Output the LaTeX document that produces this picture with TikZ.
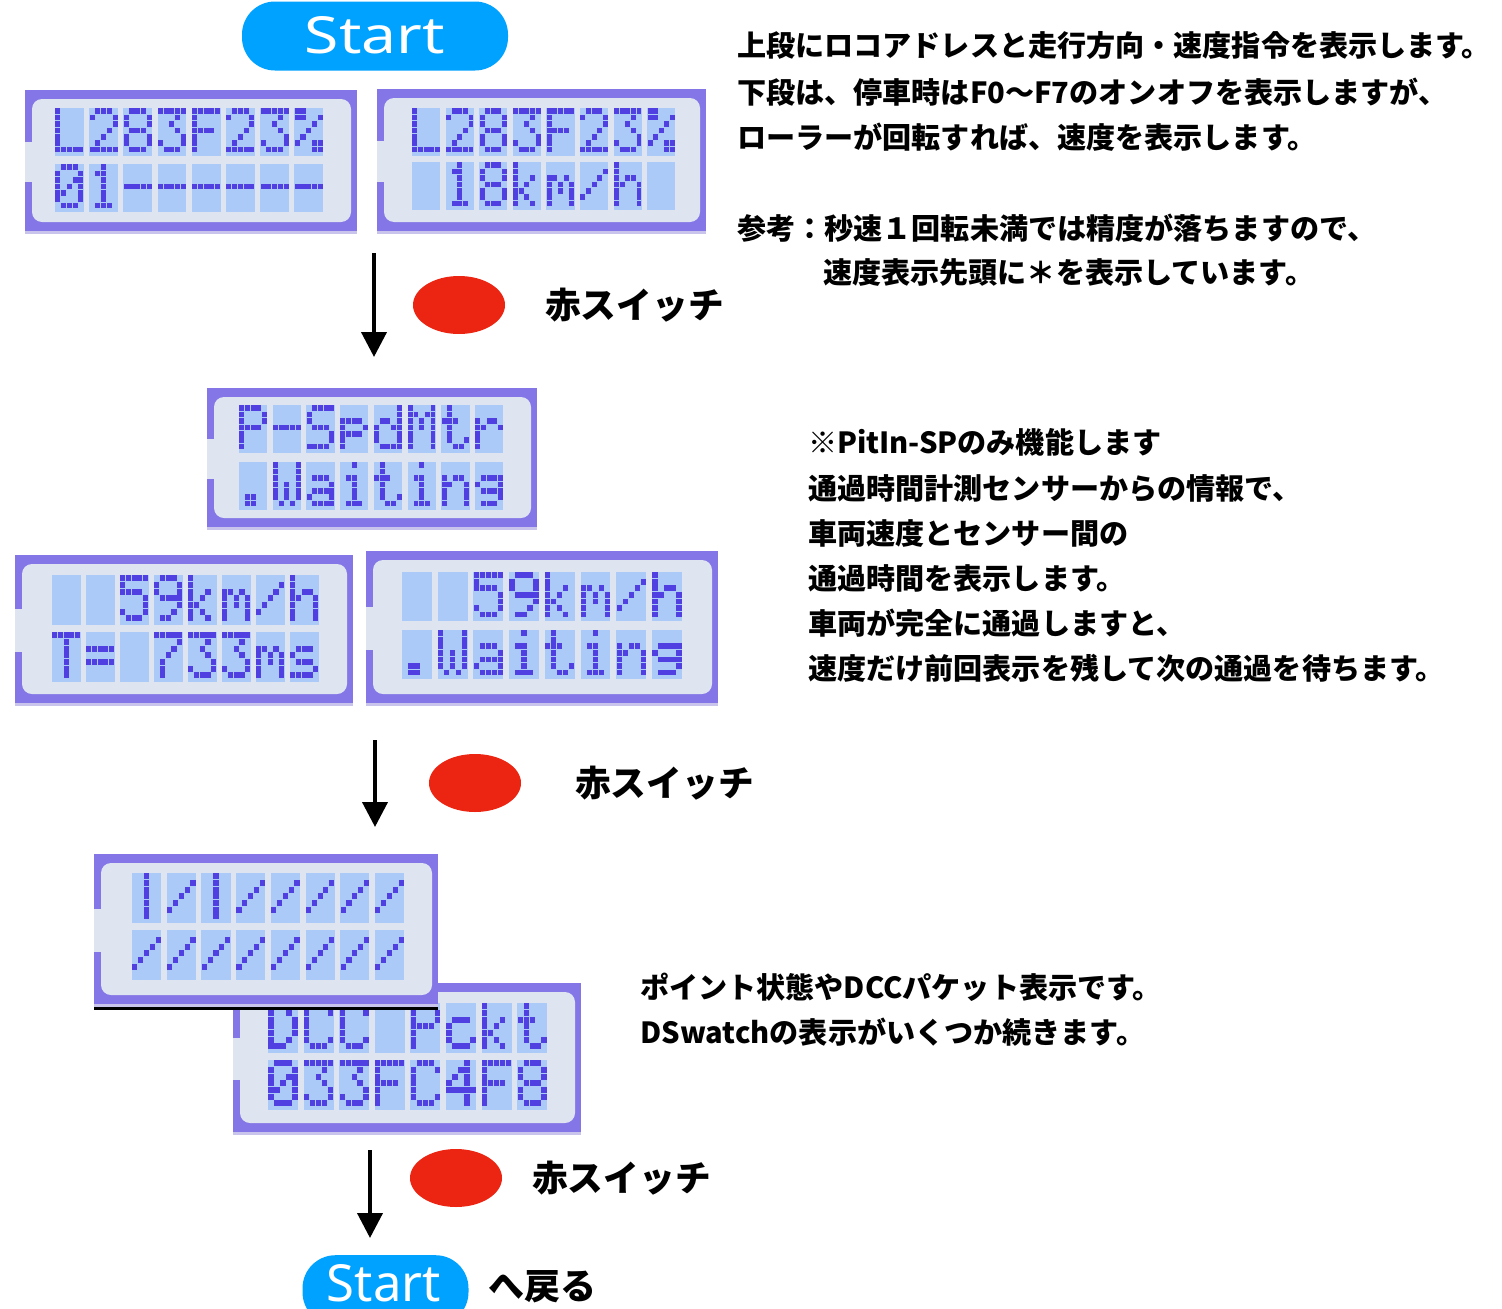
\documentclass[tikz,border=0pt]{standalone}
\usepackage{fontspec}
\usepackage{graphicx}
\usetikzlibrary{arrows.meta,shapes.geometric}
\newfontfamily\jp{Noto Sans CJK JP}
\newfontfamily\startfnt{Noto Sans}
\definecolor{lcdpurple}{RGB}{132,118,230}
\definecolor{lcdwin}{RGB}{222,229,240}
\definecolor{lcdcellc}{RGB}{172,202,248}
\definecolor{lcddotc}{RGB}{80,64,226}
\definecolor{lcdedge}{RGB}{200,196,236}
\definecolor{startblue}{RGB}{0,162,255}
\definecolor{switchred}{RGB}{236,36,18}
% ---------- dot-matrix machinery ----------
\def\lcddot#1#2#3{\ifnum#3=1 \fill[lcddotc] ({\lcdX+#1*\lcdP+0.35},{\lcdY+0.4+#2*\lcdQ}) rectangle ++({\lcdP-0.7},{\lcdQ-0.8});\fi}
\def\lcdbits#1#2#3#4#5#6{\lcddot{0}{#1}{#2}\lcddot{1}{#1}{#3}\lcddot{2}{#1}{#4}\lcddot{3}{#1}{#5}\lcddot{4}{#1}{#6}}
\newcommand\lcdglyph[8]{\expandafter\def\csname lcdg@#1\endcsname{\lcdbits0#2\lcdbits1#3\lcdbits2#4\lcdbits3#5\lcdbits4#6\lcdbits5#7\lcdbits6#8}}
\lcdglyph{L}{10000}{10000}{10000}{10000}{10000}{10000}{11111}
\lcdglyph{2}{01110}{10001}{00001}{00010}{00100}{01000}{11111}
\lcdglyph{8}{01110}{10001}{10001}{01110}{10001}{10001}{01110}
\lcdglyph{3}{11111}{00010}{00100}{00010}{00001}{10001}{01110}
\lcdglyph{F}{11111}{10000}{10000}{11110}{10000}{10000}{10000}
\lcdglyph{pct}{11000}{11001}{00010}{00100}{01000}{10011}{00011}
\lcdglyph{0}{01110}{10001}{10011}{10101}{11001}{10001}{01110}
\lcdglyph{1}{00100}{01100}{00100}{00100}{00100}{00100}{01110}
\lcdglyph{dash}{00000}{00000}{00000}{11111}{00000}{00000}{00000}
\lcdglyph{k}{10000}{10000}{10010}{10100}{11000}{10100}{10010}
\lcdglyph{m}{00000}{00000}{11010}{10101}{10101}{10001}{10001}
\lcdglyph{slash}{00000}{00001}{00010}{00100}{01000}{10000}{00000}
\lcdglyph{h}{10000}{10000}{10110}{11001}{10001}{10001}{10001}
\lcdglyph{P}{11110}{10001}{10001}{11110}{10000}{10000}{10000}
\lcdglyph{S}{01111}{10000}{10000}{01110}{00001}{00001}{11110}
\lcdglyph{p}{00000}{00000}{11110}{10001}{11110}{10000}{10000}
\lcdglyph{d}{00001}{00001}{01101}{10011}{10001}{10001}{01111}
\lcdglyph{M}{10001}{11011}{10101}{10101}{10001}{10001}{10001}
\lcdglyph{t}{01000}{01000}{11100}{01000}{01000}{01001}{00110}
\lcdglyph{r}{00000}{00000}{10110}{11001}{10000}{10000}{10000}
\lcdglyph{dot}{00000}{00000}{00000}{00000}{00000}{01100}{01100}
\lcdglyph{W}{10001}{10001}{10001}{10101}{10101}{10101}{01010}
\lcdglyph{a}{00000}{00000}{01110}{00001}{01111}{10001}{01111}
\lcdglyph{i}{00100}{00000}{01100}{00100}{00100}{00100}{01110}
\lcdglyph{n}{00000}{00000}{10110}{11001}{10001}{10001}{10001}
\lcdglyph{g}{00000}{00000}{01111}{10001}{01111}{00001}{01110}
\lcdglyph{5}{11111}{10000}{11110}{00001}{00001}{10001}{01110}
\lcdglyph{9}{01110}{10001}{10001}{01111}{00001}{00010}{01100}
\lcdglyph{T}{11111}{00100}{00100}{00100}{00100}{00100}{00100}
\lcdglyph{eq}{00000}{00000}{11111}{00000}{11111}{00000}{00000}
\lcdglyph{7}{11111}{00001}{00010}{00100}{01000}{01000}{01000}
\lcdglyph{s}{00000}{00000}{01110}{10000}{01110}{00001}{11110}
\lcdglyph{bar}{00100}{00100}{00100}{00100}{00100}{00100}{00100}
\lcdglyph{D}{11100}{10010}{10001}{10001}{10001}{10010}{11100}
\lcdglyph{C}{01110}{10001}{10000}{10000}{10000}{10001}{01110}
\lcdglyph{c}{00000}{00000}{01110}{10000}{10000}{10001}{01110}
\lcdglyph{4}{00010}{00110}{01010}{10010}{11111}{00010}{00010}
\lcdglyph{sp}{00000}{00000}{00000}{00000}{00000}{00000}{00000}
% frame: x1 y1 x2 y2
\newcommand\lcdframe[4]{%
  \fill[lcdpurple] (#1,#2) rectangle (#3,#4);
  \fill[lcdwin, rounded corners=10pt] (#1+7,#2+9) rectangle (#3-6,#4-12);
  \fill[lcdwin] (#1,{#2+0.36*(#4-#2)}) rectangle (#1+8,{#2+0.64*(#4-#2)});
  \fill[lcdedge] (#1,#4-3) rectangle (#3,#4);}
% row: x0 y pitch height glyphs
\newcommand\lcdrow[5]{%
  \foreach \g [count=\i from 0] in {#5} {
    \pgfmathsetmacro\lcdX{#1+\i*#3}
    \def\lcdY{#2}
    \pgfmathsetmacro\lcdP{0.84*#3/5}
    \pgfmathsetmacro\lcdQ{#4/7.5}
    \fill[lcdcellc] (\lcdX,\lcdY) rectangle ++({0.84*#3},#4);
    \csname lcdg@\g\endcsname
  }}
\tikzset{
  jtxt/.style={anchor=west, inner sep=0pt, font=\jp\bfseries\fontsize{29.1}{31}\selectfont},
  swtxt/.style={anchor=west, inner sep=0pt, font=\jp\bfseries\fontsize{35.7}{38}\selectfont},
  startbox/.style={fill=startblue, text=white, inner sep=0pt, rounded corners=33pt},
  starttxt/.style={text=white, inner sep=0pt},
  redsw/.style={ellipse, fill=switchred, minimum width=92pt, minimum height=58pt, inner sep=0pt},
  flowarrow/.style={line width=4pt, -{Triangle[length=25pt,width=25pt]}},
}
\begin{document}
\begin{tikzpicture}[x=1pt,y=-1pt]
\useasboundingbox (0,0) rectangle (1502,1309);
\fill[white] (0,0) rectangle (1502,1309);
% ---- Start (top)
\node[startbox, minimum width=266pt, minimum height=69pt] (start) at (375,36)
  {\raisebox{2pt}{\resizebox{140pt}{37pt}{\startfnt Start}}};
% ---- LCD 1 & 2
\lcdframe{25}{90}{357}{234}
\lcdrow{55}{108}{34.2}{48}{L,2,8,3,F,2,3,pct}
\lcdrow{55}{164}{34.2}{48}{0,1,dash,dash,dash,dash,dash,dash}
\lcdframe{377}{89}{706}{234}
\lcdrow{412}{108}{33.6}{48}{L,2,8,3,F,2,3,pct}
\lcdrow{412}{162}{33.6}{48}{sp,1,8,k,m,slash,h,sp}
% ---- explanation 1
\node[jtxt] (t11) at (737,45) {上段にロコアドレスと走行方向・速度指令を表示します。};
\node[jtxt] (t12) at (737,92) {下段は、停車時はF0〜F7のオンオフを表示しますが、};
\node[jtxt] (t13) at (737,137) {ローラーが回転すれば、速度を表示します。};
\node[jtxt] (t14) at (737,228) {参考：秒速１回転未満では精度が落ちますので、};
\node[jtxt] (t15) at (823,273) {速度表示先頭に＊を表示しています。};
% ---- switch 1
\coordinate (a1s) at (374,253);
\coordinate (a1e) at (374,357);
\draw[flowarrow] (a1s) -- (a1e);
\node[redsw] (sw1) at (459,305) {};
\node[swtxt] (sw1t) at (545,305) {赤スイッチ};
% ---- LCD 3
\lcdframe{207}{388}{537}{530}
\lcdrow{239}{405}{33.7}{48}{P,dash,S,p,d,M,t,r}
\lcdrow{239}{462}{33.7}{48}{dot,W,a,i,t,i,n,g}
% ---- LCD 4 & 5
\lcdframe{15}{555}{353}{706}
\lcdrow{52}{575}{34}{50}{sp,sp,5,9,k,m,slash,h}
\lcdrow{52}{632}{34}{50}{T,eq,sp,7,3,3,m,s}
\lcdframe{366}{551}{718}{706}
\lcdrow{402}{572}{35.7}{49}{sp,sp,5,9,k,m,slash,h}
\lcdrow{402}{630}{35.7}{49}{dot,W,a,i,t,i,n,g}
% ---- explanation 2
\node[jtxt] (t21) at (808,442) {※PitIn-SPのみ機能します};
\node[jtxt] (t22) at (808,488) {通過時間計測センサーからの情報で、};
\node[jtxt] (t23) at (808,533) {車両速度とセンサー間の};
\node[jtxt] (t24) at (808,578) {通過時間を表示します。};
\node[jtxt] (t25) at (808,623) {車両が完全に通過しますと、};
\node[jtxt] (t26) at (808,668) {速度だけ前回表示を残して次の通過を待ちます。};
% ---- switch 2
\coordinate (a2s) at (375,740);
\coordinate (a2e) at (375,827);
\draw[flowarrow] (a2s) -- (a2e);
\node[redsw] (sw2) at (475,783) {};
\node[swtxt] (sw2t) at (575,783) {赤スイッチ};
% ---- LCD 7 (behind) & LCD 6
\lcdframe{233}{983}{581}{1135}
\lcdrow{268}{1003}{35.6}{50}{D,C,C,sp,P,c,k,t}
\lcdrow{268}{1060}{35.6}{50}{0,3,3,F,C,4,F,8}
\lcdframe{94}{854}{438}{1007}
\lcdrow{132}{873}{34.7}{50}{bar,slash,bar,slash,slash,slash,slash,slash}
\lcdrow{132}{930}{34.7}{50}{slash,slash,slash,slash,slash,slash,slash,slash}
\fill[black] (94,1007) rectangle (438,1010);
% ---- explanation 3
\node[jtxt] (t31) at (640,987) {ポイント状態やDCCパケット表示です。};
\node[jtxt] (t32) at (640,1032) {DSwatchの表示がいくつか続きます。};
% ---- switch 3
\coordinate (a3s) at (370,1150);
\coordinate (a3e) at (370,1238);
\draw[flowarrow] (a3s) -- (a3e);
\node[redsw] (sw3) at (456,1178) {};
\node[swtxt] (sw3t) at (532,1178) {赤スイッチ};
% ---- Start (bottom)
\node[startbox, minimum width=166pt, minimum height=70pt, anchor=north] (start2) at (385.5,1255) {};
\node[starttxt] (start2t) at (384,1283) {\resizebox{114pt}{37pt}{\startfnt Start}};
\node[anchor=west, inner sep=0pt, font=\jp\bfseries\fontsize{36}{38}\selectfont] (back) at (488,1287) {へ戻る};
\end{tikzpicture}
\end{document}
